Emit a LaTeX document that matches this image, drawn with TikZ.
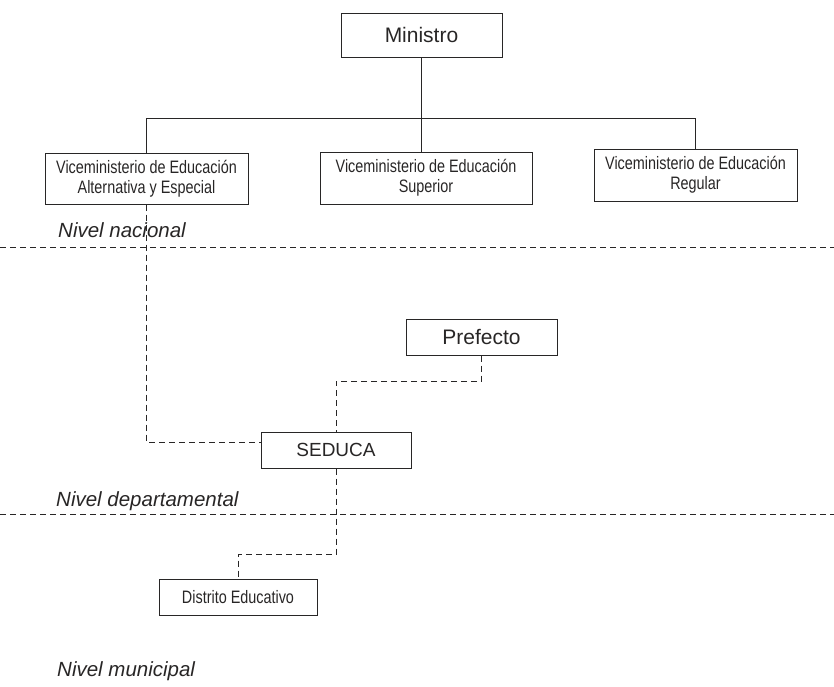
\documentclass[tikz,border=0pt]{standalone}
\usepackage{fontspec}
\setmainfont{Liberation Sans}
\newfontfamily\condfont[FakeStretch=0.8]{Liberation Sans}
\usetikzlibrary{calc}
\definecolor{ink}{RGB}{40,38,38}
\tikzset{
  x=1pt, y=-1pt,
  line/.style={draw=ink, line width=1pt},
  dline/.style={draw=ink, line width=1pt, dash pattern=on 6pt off 4pt},
  bigbox/.style={draw=ink, line width=1pt, rectangle, inner sep=0pt, text=ink, font=\fontsize{21}{25}\selectfont, align=center},
  vicebox/.style={draw=ink, line width=1pt, rectangle, inner sep=0pt, text=ink, font=\condfont\fontsize{18}{20}\selectfont, align=center},
  level/.style={anchor=base west, inner sep=0pt, text=ink, font=\itshape\fontsize{20.5}{24}\selectfont}
}
\begin{document}
\begin{tikzpicture}
\useasboundingbox (0,0) rectangle (834,686);
\node[bigbox, minimum width=161pt, minimum height=44pt] (min) at (421.5,35) {Ministro};
\node[vicebox, minimum width=203pt, minimum height=51pt] (vae) at (146.5,178.5) {Viceministerio de Educación\\Alternativa y Especial};
\node[vicebox, minimum width=212pt, minimum height=52pt] (vs) at (426,178) {Viceministerio de Educación\\Superior};
\node[vicebox, minimum width=203pt, minimum height=52pt] (vr) at (695.5,175) {Viceministerio de Educación\\Regular};
\node[bigbox, minimum width=151pt, minimum height=36pt] (pre) at (481.5,337) {Prefecto};
\node[bigbox, minimum width=150pt, minimum height=36pt, font=\fontsize{19}{23}\selectfont] (sed) at (336,450) {SEDUCA};
\node[vicebox, minimum width=158pt, minimum height=36pt] (dis) at (238,597) {Distrito Educativo};

\node[level] (l1) at (58,237) {Nivel nacional};
\node[level] (l2) at (56,506) {Nivel departamental};
\node[level] (l3) at (57,676) {Nivel municipal};

\coordinate (bar) at (421.5,118);
\coordinate (d1l) at (0,247);
\coordinate (d1r) at (834,247);
\coordinate (d2l) at (0,514);
\coordinate (d2r) at (834,514);
\coordinate (pk) at (336,381);
\coordinate (sk) at (238,554);

\draw[line] (min.south) -- (min.south |- vs.north);
\draw[line] (vae.north) -- (vae.north |- bar) -- (vr.north |- bar) -- (vr.north);

\draw[dline] (d1l) -- (d1r);
\draw[dline] (d2l) -- (d2r);

\draw[dline] (vae.south) |- ($(sed.west)+(0,-8)$);
\draw[dline] (pre.south) |- (pk) -- (sed.north);
\draw[dline] (sed.south) |- (sk) -- (dis.north);
\end{tikzpicture}
\end{document}
